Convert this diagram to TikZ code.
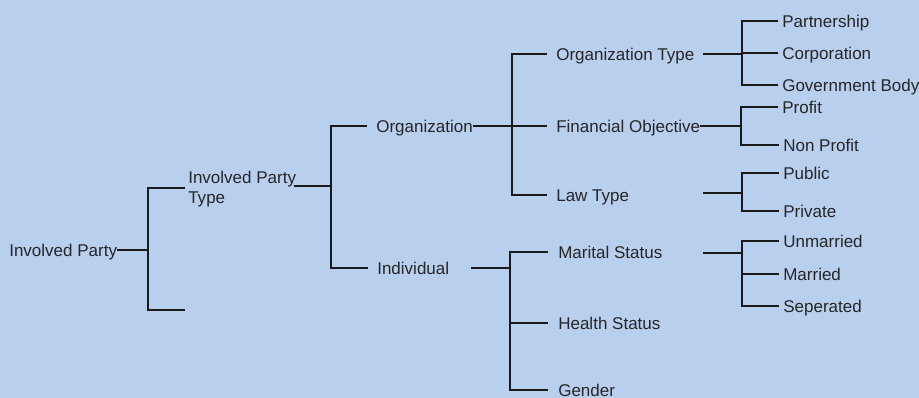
\documentclass[tikz,border=0pt]{standalone}
\usepackage{fontspec}
\setmainfont{Liberation Sans}
\definecolor{bgblue}{RGB}{185,207,238}
\definecolor{inkgray}{RGB}{38,38,38}
\tikzset{
  txt/.style={inner sep=0pt, text=inkgray, font=\fontsize{12.1}{14.2}\selectfont},
  lbl/.style={txt, anchor=west, text height=8.7pt, text depth=0pt},
  conn/.style={line width=1pt, draw=black!90},
  twig/.style={conn, shorten >=#1},
  twig/.default=2.8pt,
}

\begin{document}
\begin{tikzpicture}[x=0.025cm, y=-0.025cm]
\fill[bgblue] (0,0) rectangle (919,398);
\useasboundingbox (0,0) rectangle (919,398);

% labels
\node[lbl] (ip) at (9,250) {Involved Party};
\node[txt, align=left, anchor=north west] (ipt) at (188,171) {Involved Party\\Type};
\node[lbl] (org) at (376,126) {Organization};
\node[lbl] (ind) at (377,268) {Individual};
\node[lbl] (orgtype) at (556,54) {Organization Type};
\node[lbl] (finobj) at (556,126) {Financial Objective};
\node[lbl] (law) at (556,195) {Law Type};
\node[lbl] (marital) at (558,252) {Marital Status};
\node[lbl] (health) at (558,323) {Health Status};
\node[lbl] (gender) at (558,390) {Gender};
\node[lbl] (part) at (782,21) {Partnership};
\node[lbl] (corp) at (782,53) {Corporation};
\node[lbl] (gov) at (782,85) {Government Body};
\node[lbl] (profit) at (782,107) {Profit};
\node[lbl] (nonprofit) at (783,145) {Non Profit};
\node[lbl] (public) at (783,173) {Public};
\node[lbl] (private) at (783,211) {Private};
\node[lbl] (unmarried) at (783,241) {Unmarried};
\node[lbl] (married) at (783,274) {Married};
\node[lbl] (seperated) at (783,306) {Seperated};

% junctions and free ends
\coordinate (j0) at (148,250);
\coordinate (ipt-in) at (185,188);
\coordinate (blank) at (185,310);
\coordinate (ipt-out) at (294,186);
\coordinate (j1) at (331,186);
\coordinate (j2) at (512,126);
\coordinate (ind-out) at (471,268);
\coordinate (j3) at (510,268);
\coordinate (ot-out) at (703,54);
\coordinate (j4) at (742,54);
\coordinate (j5) at (741,126);
\coordinate (law-out) at (703,193);
\coordinate (j6) at (742,193);
\coordinate (ms-out) at (703,253);
\coordinate (j7) at (742,253);

% brackets
\draw[conn] (ip.east) -- (j0);
\draw[conn] (j0) |- (ipt-in);
\draw[conn] (j0) |- (blank);
\draw[conn] (ipt-out) -- (j1);
\draw[twig=6.4pt] (j1) |- (org.west);
\draw[twig=6.4pt] (j1) |- (ind.west);
\draw[conn] (org.east) -- (j2);
\foreach \c in {orgtype,finobj,law} \draw[twig=6.4pt] (j2) |- (\c.west);
\draw[conn] (ind-out) -- (j3);
\foreach \c in {marital,health,gender} \draw[twig=6.8pt] (j3) |- (\c.west);
\draw[conn] (ot-out) -- (j4);
\foreach \c in {part,corp,gov} \draw[twig] (j4) |- (\c.west);
\draw[conn] (finobj.east) -- (j5);
\foreach \c in {profit,nonprofit} \draw[twig] (j5) |- (\c.west);
\draw[conn] (law-out) -- (j6);
\foreach \c in {public,private} \draw[twig] (j6) |- (\c.west);
\draw[conn] (ms-out) -- (j7);
\foreach \c in {unmarried,married,seperated} \draw[twig] (j7) |- (\c.west);
\end{tikzpicture}
\end{document}
